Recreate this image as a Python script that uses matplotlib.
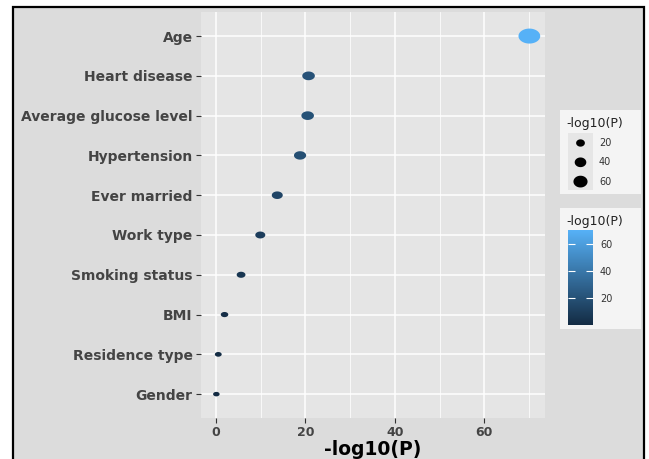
import numpy as np
import matplotlib
matplotlib.use("Agg")
import matplotlib.pyplot as plt
from matplotlib.path import Path
from matplotlib.patches import Rectangle
from matplotlib.colors import LinearSegmentedColormap, Normalize

# ---------------------------------------------------------
# data
# ---------------------------------------------------------
features = ["Age", "Heart disease", "Average glucose level", "Hypertension",
            "Ever married", "Work type", "Smoking status", "BMI",
            "Residence type", "Gender"]
neglog10p = [70.1, 20.7, 20.5, 18.8, 13.7, 9.9, 5.6, 1.9, 0.5, 0.07]

x_ticks = [0, 20, 40, 60]
x_minor = [10, 30, 50, 70]
legend_levels = [20, 40, 60]

# ---------------------------------------------------------
# style
# ---------------------------------------------------------
W, H = 649, 459
STRETCH = 1.45          # the picture is a bit wider than tall per unit
BG = "#dcdcdc"
PANEL = "#e5e5e5"
BOX = "#f4f4f4"
cmap = LinearSegmentedColormap.from_list("gg", ["#132B43", "#56B1F7"])
plt.rcParams["font.family"] = ["DejaVu Sans"]


def px_rect(x0, y0, x1, y1):
    # pixel box (top-left origin) -> add_axes rect
    return [x0 / W, 1 - y1 / H, (x1 - x0) / W, (y1 - y0) / H]


def ellipse_path(stretch):
    theta = np.linspace(0, 2 * np.pi, 65)
    verts = np.column_stack([stretch * np.cos(theta), np.sin(theta)])
    codes = [Path.MOVETO] + [Path.LINETO] * (len(verts) - 2) + [Path.CLOSEPOLY]
    return Path(verts, codes)


ELLIPSE = ellipse_path(STRETCH)
ELLIPSE_KEY = ellipse_path(1.2)

vals = np.array(neglog10p)
vmin, vmax = vals.min(), vals.max()
norm = Normalize(vmin, vmax)


def marker_area(v, stretch=STRETCH, scale=1.0):
    frac = np.clip((np.asarray(v, float) - vmin) / (vmax - vmin), 0, 1)
    h_px = (4.5 + 10.5 * frac ** 0.75) * scale
    w_pt = h_px * stretch * 72 / 100
    return w_pt ** 2


fig = plt.figure(figsize=(W / 100, H / 100), dpi=100)
fig.patch.set_facecolor("white")
fig.add_artist(Rectangle((13 / W, -0.05), (644 - 13) / W, 1 - 7 / H + 0.05,
                         transform=fig.transFigure, facecolor=BG,
                         edgecolor="black", linewidth=1.6, zorder=0))

# ---------------------------------------------------------
# main panel
# ---------------------------------------------------------
ax = fig.add_axes(px_rect(200.7, 12.2, 545, 418))
ax.set_facecolor(PANEL)
for s in ax.spines.values():
    s.set_visible(False)

sc = ax.scatter(vals, features, s=marker_area(vals), c=vals, cmap=cmap,
                norm=norm, marker=ELLIPSE, linewidths=0, zorder=3)

pad = 0.05 * (vmax - vmin)
ax.set_xlim(vmin - pad, vmax + pad)
ax.set_ylim(len(features) - 0.4, -0.6)

ax.set_xticks(x_ticks)
ax.set_xticks(x_minor, minor=True)
ax.grid(True, which="major", color="white", linewidth=1.1, zorder=1)
ax.grid(True, which="minor", axis="x", color="white", linewidth=0.55, zorder=1)
ax.set_axisbelow(True)

ax.tick_params(which="minor", length=0)
ax.tick_params(which="major", length=3.8, width=0.8, color="#333333", pad=2)
ax.tick_params(axis="y", labelsize=10, labelcolor="#444444")
ax.tick_params(axis="x", labelsize=9, labelcolor="#444444")
for lab in ax.get_xticklabels() + ax.get_yticklabels():
    lab.set_fontweight("bold")

ax.set_xlabel("-log10(P)", fontsize=13.5, fontweight="bold", color="black",
              labelpad=1)

# ---------------------------------------------------------
# size legend
# ---------------------------------------------------------
lax = fig.add_axes(px_rect(560, 110, 641, 194))
lax.set_facecolor(BOX)
lax.set_xlim(0, 81)
lax.set_ylim(84, 0)
lax.set_xticks([])
lax.set_yticks([])
for s in lax.spines.values():
    s.set_visible(False)
lax.text(6, 14, "-log10(P)", fontsize=9, va="center", color="#222222")
lax.add_patch(Rectangle((8, 23), 25, 57, facecolor="#e6e6e6", linewidth=0))
key_y = 33 + 19.3 * np.arange(len(legend_levels))
lax.scatter([20.5] * len(legend_levels), key_y,
            s=marker_area(legend_levels, stretch=1.2, scale=0.85), c="black",
            marker=ELLIPSE_KEY, linewidths=0, zorder=3)
for yy, lv in zip(key_y, legend_levels):
    lax.text(39, yy, str(lv), fontsize=7, va="center", color="#333333")

# ---------------------------------------------------------
# colour bar legend
# ---------------------------------------------------------
cbox = fig.add_axes(px_rect(560, 208, 641, 329))
cbox.set_facecolor(BOX)
cbox.set_xticks([])
cbox.set_yticks([])
for s in cbox.spines.values():
    s.set_visible(False)
cbox.text(6 / 81, 1 - 13.5 / 121, "-log10(P)", transform=cbox.transAxes,
          fontsize=9, va="center", color="#222222")

cax = fig.add_axes(px_rect(568, 230, 593, 325))
cb = fig.colorbar(sc, cax=cax)
cb.outline.set_visible(False)
cb.set_ticks(legend_levels)
cax.tick_params(direction="in", length=5, width=0.8, color="white",
                left=True, right=True, labelsize=7, labelcolor="#333333",
                pad=5)

fig.savefig("out.png", dpi=100)
